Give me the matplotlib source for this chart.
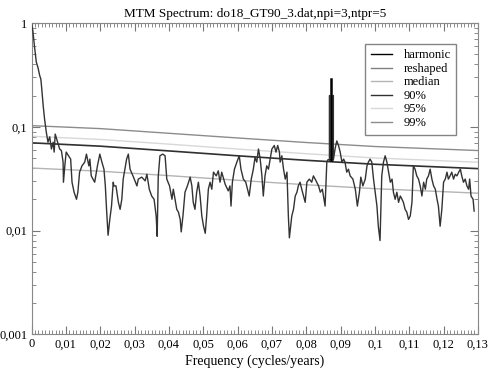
"""MTM spectrum plot (reshaped spectrum, harmonic line, red-noise levels)."""

import matplotlib
matplotlib.use("Agg")
import matplotlib.pyplot as plt
from matplotlib.ticker import MultipleLocator, LogLocator, FuncFormatter, NullFormatter

plt.rcParams["font.family"] = ["Liberation Serif", "DejaVu Serif"]

# reshaped spectrum
freq = [
    0.0000, 0.0004, 0.0009, 0.0014, 0.0019, 0.0024, 0.0027, 0.0029, 0.0034, 0.0038,
    0.0043, 0.0048, 0.0053, 0.0058, 0.0063, 0.0066, 0.0069, 0.0075, 0.0082, 0.0087,
    0.0092, 0.0093, 0.0097, 0.0101, 0.0108, 0.0114, 0.0118, 0.0124, 0.0131, 0.0135,
    0.0140, 0.0147, 0.0155, 0.0160, 0.0167, 0.0170, 0.0174, 0.0184, 0.0192, 0.0199,
    0.0205, 0.0211, 0.0215, 0.0219, 0.0223, 0.0228, 0.0233, 0.0238, 0.0240, 0.0246,
    0.0253, 0.0258, 0.0263, 0.0267, 0.0272, 0.0277, 0.0282, 0.0287, 0.0297, 0.0307,
    0.0311, 0.0321, 0.0331, 0.0336, 0.0343, 0.0350, 0.0357, 0.0363, 0.0366, 0.0369,
    0.0374, 0.0382, 0.0389, 0.0394, 0.0402, 0.0409, 0.0413, 0.0418, 0.0423, 0.0428,
    0.0433, 0.0436, 0.0441, 0.0447, 0.0454, 0.0462, 0.0467, 0.0471, 0.0476, 0.0481,
    0.0486, 0.0491, 0.0496, 0.0501, 0.0506, 0.0510, 0.0515, 0.0520, 0.0525, 0.0530,
    0.0538, 0.0544, 0.0549, 0.0554, 0.0564, 0.0573, 0.0578, 0.0581, 0.0585, 0.0591,
    0.0598, 0.0605, 0.0610, 0.0617, 0.0624, 0.0634, 0.0640, 0.0646, 0.0651, 0.0656,
    0.0661, 0.0666, 0.0671, 0.0675, 0.0680, 0.0685, 0.0690, 0.0695, 0.0700, 0.0707,
    0.0712, 0.0717, 0.0722, 0.0724, 0.0729, 0.0734, 0.0739, 0.0744, 0.0748, 0.0751,
    0.0758, 0.0763, 0.0768, 0.0773, 0.0777, 0.0782, 0.0787, 0.0797, 0.0802, 0.0809,
    0.0816, 0.0821, 0.0826, 0.0836, 0.0841, 0.0847, 0.0855, 0.0860, 0.0863, 0.0868,
    0.0868, 0.0868, 0.0879, 0.0879, 0.0879, 0.0884, 0.0889, 0.0894, 0.0899, 0.0904,
    0.0909, 0.0913, 0.0918, 0.0923, 0.0928, 0.0936, 0.0943, 0.0949, 0.0955, 0.0959,
    0.0965, 0.0972, 0.0977, 0.0981, 0.0986, 0.0991, 0.0996, 0.1001, 0.1006, 0.1010,
    0.1015, 0.1020, 0.1025, 0.1030, 0.1035, 0.1040, 0.1045, 0.1050, 0.1054, 0.1059,
    0.1064, 0.1069, 0.1074, 0.1079, 0.1083, 0.1088, 0.1093, 0.1098, 0.1103, 0.1108,
    0.1112, 0.1117, 0.1122, 0.1127, 0.1132, 0.1137, 0.1142, 0.1147, 0.1151, 0.1156,
    0.1161, 0.1166, 0.1171, 0.1176, 0.1181, 0.1185, 0.1190, 0.1195, 0.1200, 0.1205,
    0.1210, 0.1214, 0.1219, 0.1224, 0.1229, 0.1234, 0.1239, 0.1244, 0.1249, 0.1253,
    0.1258, 0.1263, 0.1268, 0.1273, 0.1276, 0.1280, 0.1286, 0.1289,
]
power = [
    0.99, 0.83, 0.58, 0.42, 0.37, 0.31, 0.29, 0.25, 0.16, 0.119,
    0.089, 0.071, 0.080, 0.061, 0.071, 0.057, 0.085, 0.073, 0.061, 0.059,
    0.0456, 0.0292, 0.042, 0.057, 0.0525, 0.0488, 0.0292, 0.0234, 0.020, 0.0234,
    0.0365, 0.042, 0.0456, 0.0545, 0.042, 0.0488, 0.0336, 0.0292, 0.042, 0.0545,
    0.0456, 0.039, 0.0269, 0.015, 0.009, 0.0128, 0.0172, 0.0292, 0.0269, 0.0269,
    0.0187, 0.016, 0.020, 0.0313, 0.039, 0.0488, 0.0545, 0.039, 0.0327, 0.0269,
    0.0313, 0.0327, 0.0301, 0.0349, 0.025, 0.0215, 0.020, 0.0138, 0.0088, 0.0327,
    0.0525, 0.0545, 0.0525, 0.0313, 0.0269, 0.020, 0.025, 0.020, 0.016, 0.015,
    0.0128, 0.0097, 0.0138, 0.0234, 0.0269, 0.0327, 0.0269, 0.0187, 0.016, 0.0234,
    0.0292, 0.0215, 0.0138, 0.011, 0.0094, 0.0138, 0.025, 0.0292, 0.025, 0.0365,
    0.0336, 0.0376, 0.0292, 0.0365, 0.0279, 0.0241, 0.0269, 0.0172, 0.0292, 0.039,
    0.0456, 0.0525, 0.039, 0.0313, 0.0292, 0.0215, 0.0313, 0.039, 0.0507, 0.0456,
    0.061, 0.0488, 0.0336, 0.0215, 0.0336, 0.042, 0.039, 0.0488, 0.061, 0.066,
    0.057, 0.066, 0.057, 0.0456, 0.0525, 0.039, 0.0313, 0.0365, 0.0138, 0.0085,
    0.0138, 0.016, 0.0215, 0.0234, 0.0269, 0.0292, 0.025, 0.0187, 0.0292, 0.0313,
    0.0292, 0.0336, 0.0313, 0.0269, 0.0234, 0.025, 0.0172, 0.0456, 0.048, 0.048,
    0.20, 0.048, 0.048, 0.20, 0.048, 0.061, 0.073, 0.066, 0.057, 0.0456,
    0.0488, 0.0456, 0.0365, 0.039, 0.0336, 0.0313, 0.025, 0.0172, 0.0234, 0.0327,
    0.0269, 0.0313, 0.042, 0.0456, 0.0488, 0.0456, 0.0313, 0.0234, 0.0172, 0.011,
    0.008, 0.0336, 0.0456, 0.0525, 0.0456, 0.0365, 0.0292, 0.0313, 0.0234, 0.020,
    0.0234, 0.0187, 0.0215, 0.020, 0.0187, 0.016, 0.015, 0.0128, 0.0138, 0.0187,
    0.042, 0.039, 0.0336, 0.0313, 0.0269, 0.0215, 0.0292, 0.025, 0.0313, 0.0336,
    0.039, 0.0313, 0.0269, 0.025, 0.020, 0.0172, 0.011, 0.016, 0.0292, 0.0313,
    0.0365, 0.0313, 0.0336, 0.0365, 0.0313, 0.0349, 0.0336, 0.0365, 0.039, 0.0336,
    0.0292, 0.0313, 0.0269, 0.025, 0.0313, 0.0215, 0.020, 0.0154,
]

# harmonic line
harm_freq = [0.0873, 0.0873]
harm_power = [0.048, 0.29]

# red-noise background and confidence levels
level_freq = [0.0, 0.02, 0.04, 0.06, 0.08, 0.10, 0.13]
median = [0.0400, 0.0373, 0.0338, 0.0305, 0.0276, 0.0253, 0.0229]
conf90 = [0.0700, 0.0650, 0.0585, 0.0525, 0.0475, 0.0435, 0.0395]
conf95 = [0.0810, 0.0755, 0.0680, 0.0610, 0.0550, 0.0500, 0.0455]
conf99 = [0.1025, 0.0960, 0.0865, 0.0780, 0.0705, 0.0645, 0.0590]

fig = plt.figure(figsize=(4.9, 3.71), dpi=100)
ax = fig.add_axes([0.0643, 0.099, 0.911, 0.839])

ax.plot(harm_freq, harm_power, color="black", lw=1.8, label="harmonic", zorder=4)
ax.plot(freq, power, color="#333333", lw=1.0, label="reshaped", zorder=3)
ax.plot(level_freq, median, color="#b4b4b4", lw=1.0, label="median")
ax.plot(level_freq, conf90, color="#303030", lw=1.2, label="90%")
ax.plot(level_freq, conf95, color="#d8d8d8", lw=1.0, label="95%")
ax.plot(level_freq, conf99, color="#8c8c8c", lw=1.0, label="99%")

ax.set_yscale("log")
ax.set_xlim(0, 0.13)
ax.set_ylim(0.001, 1.0)

ax.xaxis.set_major_locator(MultipleLocator(0.01))
ax.xaxis.set_minor_locator(MultipleLocator(0.001))
ax.yaxis.set_major_locator(LogLocator(base=10, numticks=10))
ax.yaxis.set_minor_locator(LogLocator(base=10, subs=range(2, 10), numticks=10))
ax.yaxis.set_minor_formatter(NullFormatter())


def comma(v, pos):
    s = f"{v:.3f}".rstrip("0").rstrip(".")
    return s.replace(".", ",")


ax.xaxis.set_major_formatter(FuncFormatter(comma))
ax.yaxis.set_major_formatter(FuncFormatter(comma))

ax.tick_params(which="both", direction="in", top=True, right=True,
               color="#777777", labelsize=9, pad=3)
ax.tick_params(which="major", length=6)
ax.tick_params(which="minor", length=3)
for sp in ax.spines.values():
    sp.set_color("#888888")

ax.set_title("MTM Spectrum: do18_GT90_3.dat,npi=3,ntpr=5", fontsize=9.5, pad=4)
ax.set_xlabel("Frequency (cycles/years)", fontsize=10, labelpad=3)

leg = ax.legend(loc="upper left", bbox_to_anchor=(0.748, 0.933), fontsize=9,
                frameon=True, fancybox=False, edgecolor="#666666",
                handlelength=1.7, handletextpad=0.9, labelspacing=0.12,
                borderpad=0.45, borderaxespad=0)
leg.get_frame().set_linewidth(1.0)
for h in leg.legend_handles:
    h.set_linewidth(1.0)
leg.legend_handles[1].set_color("#808080")

fig.savefig("out.png", dpi=100)
plt.close(fig)
